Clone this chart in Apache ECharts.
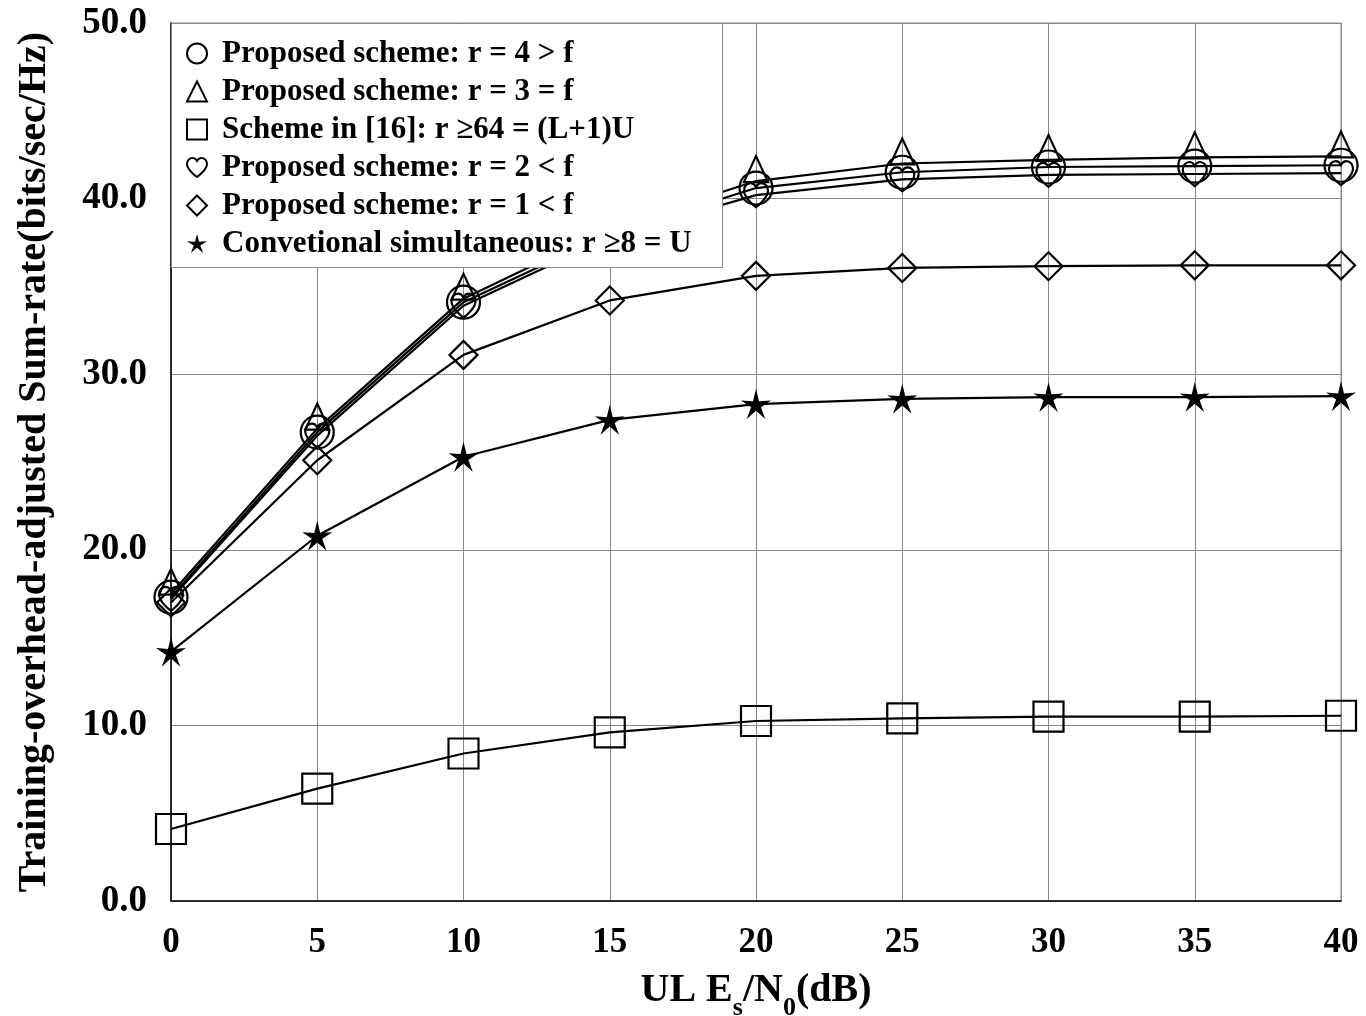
<!DOCTYPE html>
<html>
<head>
<meta charset="utf-8">
<script src="https://cdn.jsdelivr.net/npm/echarts@6/dist/echarts.min.js"></script>
<style>html,body{margin:0;padding:0;background:#fff}#c{width:1366px;height:1016px}</style>
</head>
<body>
<div id="c"></div>
<script>
const xValues = [0, 5, 10, 15, 20, 25, 30, 35, 40];
const r4Circle = [17.3, 26.7, 34.1, 38.0, 40.6, 41.5, 41.8, 41.85, 41.9];
const r3Triangle = [17.5, 26.9, 34.3, 38.3, 41.0, 42.0, 42.2, 42.35, 42.4];
const scheme16Square = [4.1, 6.4, 8.4, 9.6, 10.25, 10.4, 10.5, 10.5, 10.55];
const r2Heart = [17.2, 26.5, 33.9, 37.8, 40.2, 41.1, 41.35, 41.4, 41.45];
const r1Diamond = [17.0, 25.1, 31.1, 34.2, 35.6, 36.05, 36.15, 36.2, 36.2];
const convStar = [14.2, 20.8, 25.3, 27.4, 28.3, 28.6, 28.7, 28.7, 28.75];
const yTicks = [0, 10, 20, 30, 40, 50];
const xTicks = [0, 5, 10, 15, 20, 25, 30, 35, 40];
const names = [
  'Proposed scheme: r = 4 > f',
  'Proposed scheme: r = 3 = f',
  'Scheme in [16]: r \u226564 = (L+1)U',
  'Proposed scheme: r = 2 < f',
  'Proposed scheme: r = 1 < f',
  'Convetional simultaneous: r \u22658 = U'
];

const HEART = 'path://M12,21 C12,21 2,14 2,8 C2,4.5 4.5,2 7.5,2 C9.5,2 11,3.2 12,5 C13,3.2 14.5,2 16.5,2 C19.5,2 22,4.5 22,8 C22,14 12,21 12,21 Z';
const STAR = 'path://M10,0 L11.9,7.4 L19.51,6.91 L13.1,11.0 L15.88,18.09 L10,13.1 L4.12,18.09 L6.9,11.0 L0.49,6.91 L8.1,7.4 Z';
const FONT = '"Liberation Serif", "Times New Roman", serif';

function pairs(ys) { return xValues.map((x, i) => [x, ys[i]]); }
function mk(name, ys, symbol, size, opts) {
  return Object.assign({
    name: name, type: 'line', data: pairs(ys), symbol: symbol, symbolSize: size,
    showAllSymbol: true, z: 2,
    lineStyle: { color: '#000', width: 2.2 },
    itemStyle: { color: 'rgba(0,0,0,0)', borderColor: '#000', borderWidth: 2.2 },
    emphasis: { disabled: true }, animation: false
  }, opts || {});
}

const chart = echarts.init(document.getElementById('c'), null, { renderer: 'canvas' });
chart.setOption({
  animation: false,
  backgroundColor: '#fff',
  grid: { left: 171, right: 25, top: 23, bottom: 115, show: true, borderColor: '#888', borderWidth: 1,
    containLabel: false, outerBoundsMode: 'none' },
  xAxis: {
    type: 'value', min: 0, max: 40, interval: 5,
    name: '{t|UL E}{s|s}{t|/N}{s|0}{t|(dB)}', nameLocation: 'middle', nameGap: 66,
    nameTextStyle: { rich: {
      t: { fontFamily: FONT, fontWeight: 'bold', fontSize: 40, color: '#000', verticalAlign: 'bottom', lineHeight: 44 },
      s: { fontFamily: FONT, fontWeight: 'bold', fontSize: 26, color: '#000', verticalAlign: 'bottom', lineHeight: 44, padding: [0,0,-10,0] }
    } },
    axisLine: { lineStyle: { color: '#000', width: 1.5 } },
    axisTick: { show: false },
    splitLine: { show: true, lineStyle: { color: '#888', width: 1 } },
    axisLabel: { fontFamily: FONT, fontWeight: 'bold', fontSize: 35, color: '#000', margin: 24,
      formatter: v => xTicks.includes(v) ? String(v) : '' }
  },
  yAxis: {
    type: 'value', min: 0, max: 50, interval: 10,
    name: 'Training-overhead-adjusted Sum-rate(bits/sec/Hz)', nameLocation: 'middle', nameGap: 116,
    nameTextStyle: { fontFamily: FONT, fontWeight: 'bold', fontSize: 40, color: '#000' },
    axisLine: { show: true, lineStyle: { color: '#000', width: 1.5 } },
    axisTick: { show: false },
    splitLine: { show: true, lineStyle: { color: '#888', width: 1 } },
    axisLabel: { fontFamily: FONT, fontWeight: 'bold', fontSize: 37, color: '#000', margin: 24,
      formatter: v => yTicks.includes(v) ? v.toFixed(1) : '' }
  },
  graphic: [{
    type: 'rect', z: 50, zlevel: 0, left: 171, top: 23,
    shape: { width: 551, height: 244 },
    style: { fill: '#fff', stroke: '#888', lineWidth: 1 }
  }],
  legend: {
    orient: 'vertical', left: 186, top: 38, padding: 0, itemGap: 7,
    itemWidth: 20, itemHeight: 20, z: 60,
    textStyle: { fontFamily: FONT, fontWeight: 'bold', fontSize: 31, color: '#000', padding: [0,0,0,10] },
    data: [
      { name: names[0], icon: 'circle' },
      { name: names[1], icon: 'triangle' },
      { name: names[2], icon: 'rect' },
      { name: names[3], icon: HEART },
      { name: names[4], icon: 'diamond' },
      { name: names[5], icon: STAR }
    ],
    selectedMode: false
  },
  series: [
    mk(names[0], r4Circle, 'circle', 33),
    mk(names[1], r3Triangle, 'triangle', [24, 26], { symbolOffset: [0, -12] }),
    mk(names[2], scheme16Square, 'rect', 30),
    mk(names[3], r2Heart, HEART, [24, 24]),
    mk(names[4], r1Diamond, 'diamond', 28),
    mk(names[5], convStar, STAR, 30, { itemStyle: { color: '#000', borderColor: '#000', borderWidth: 0 } })
  ]
});
</script>
</body>
</html>
